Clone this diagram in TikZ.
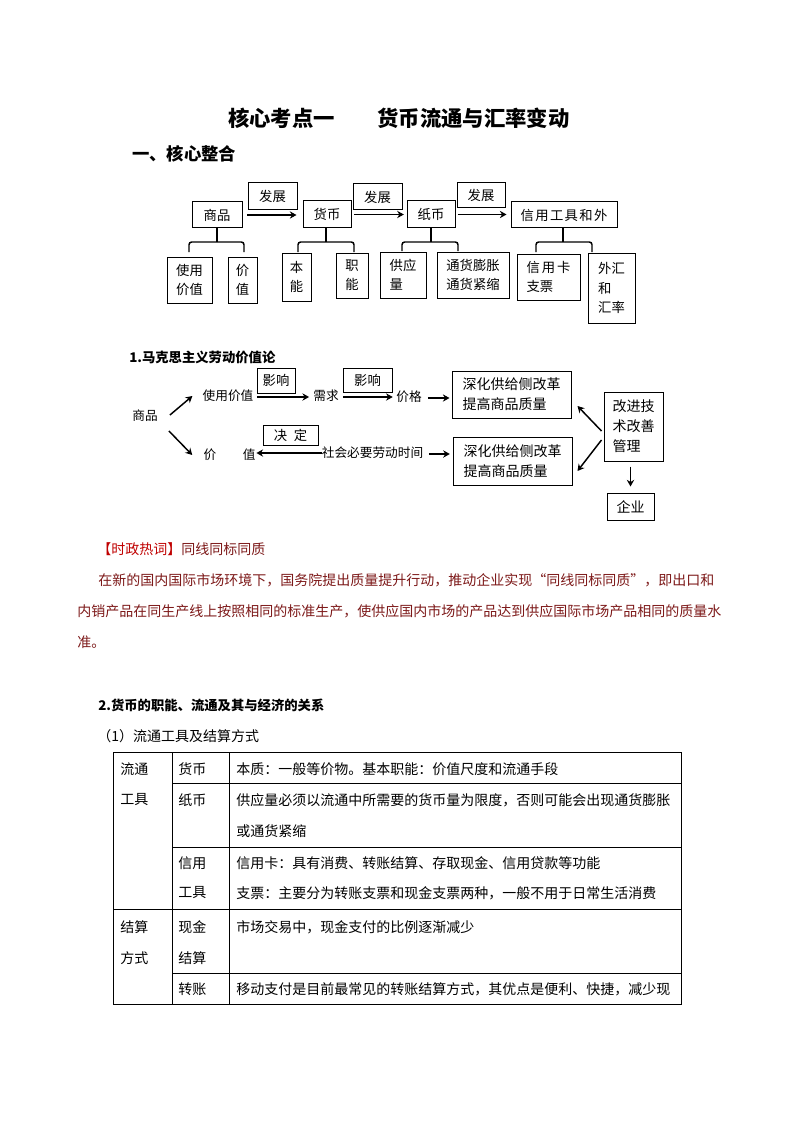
\documentclass[tikz,border=0pt]{standalone}
\usepackage{fontspec}
\setmainfont{Noto Sans CJK SC}
\usetikzlibrary{arrows.meta,calc}
\definecolor{hot}{RGB}{192,0,0}
\definecolor{para}{RGB}{125,25,25}
\begin{document}
\begin{tikzpicture}[x=0.75pt,y=-0.75pt,
  box/.style={draw, line width=0.75pt, inner sep=0pt, align=left, font=\fontsize{10}{14.5}\selectfont},
  bx/.style 2 args={box, minimum width={(#1)*0.75pt}, minimum height={(#2)*0.75pt}},
  bxb/.style 2 args={bx={#1}{#2}, font=\fontsize{10.5}{15}\selectfont},
  lbl/.style={inner sep=0pt, font=\fontsize{9.5}{11}\selectfont},
  txt/.style={inner sep=0pt, anchor=west, font=\fontsize{10.5}{12}\selectfont},
  arr/.style={-{Stealth[length=5pt,width=5.5pt]}, line width=1.1pt},
  brk/.style={line width=1.1pt, rounded corners=2pt},
  tline/.style={line width=0.75pt}
]
\useasboundingbox[fill=white] (0,0) rectangle (794,1123);

% title
\node[txt, font=\bfseries\fontsize{16}{18}\selectfont] (title) at (228,118) {核心考点一\hspace{32pt}货币流通与汇率变动};
\node[txt, font=\bfseries\fontsize{13}{15}\selectfont] (h1) at (132,154) {一、核心整合};

% top diagram
\node[bx={50}{26}] (sp) at (217,215) {商品};
\node[bx={49}{27}] (fz1) at (272.5,196.5) {发展};
\node[bx={48}{27}] (hb) at (327,214.5) {货币};
\node[bx={49}{26}] (fz2) at (377.5,197) {发展};
\node[bx={48}{27}] (zb) at (431,214.5) {纸币};
\node[bx={48}{25}] (fz3) at (481,195.5) {发展};
\node[bx={106}{26}] (xy) at (564,215) {信\hspace{1pt}用\hspace{1pt}工\hspace{1pt}具\hspace{1pt}和\hspace{1pt}外};

\node[bx={45}{46}] (syjz) at (189.5,280) {使用\\价值};
\node[bx={29}{46}] (jz) at (242.5,280) {价\\值};
\node[bx={29}{48}] (bn) at (296.5,277) {本\\能};
\node[bx={32}{45}] (zn) at (352,275.5) {职\\能};
\node[bx={46}{46}] (gyl) at (403,275) {供应\\量};
\node[bx={72}{46}] (tz) at (473,275) {通货膨胀\\通货紧缩};
\node[bx={63}{46}] (xyk) at (548.5,277) {信\hspace{1.5pt}用\hspace{1.5pt}卡\\支票};
\node[bx={47}{70}] (wh) at (611.5,288) {外汇\\和\\汇率};

\draw[arr, shorten <=3.5pt, shorten >=4.5pt] (sp.east) -- (sp.east -| hb.west);
\draw[arr, shorten <=2pt, shorten >=2pt] (hb.east) -- (hb.east -| zb.west);
\draw[arr, shorten <=1.5pt, shorten >=3pt] (zb.east) -- (zb.east -| xy.west);

\coordinate (spm) at (217,242);
\coordinate (spl) at (189,252);
\coordinate (spr) at (244,252);
\draw[line width=1.1pt] (sp.south) -- (spm);
\draw[brk] (spl) -- (spl |- spm) -- (spr |- spm) -- (spr);

\coordinate (hbm) at (326,242);
\coordinate (hbl) at (298,252);
\coordinate (hbr) at (354,252);
\draw[line width=1.1pt] (hb.south -| hbm) -- (hbm);
\draw[brk] (hbl) -- (hbl |- hbm) -- (hbr |- hbm) -- (hbr);

\coordinate (zbm) at (431,242);
\coordinate (zbl) at (402,251);
\coordinate (zbr) at (458,251);
\draw[line width=1.1pt] (zb.south) -- (zbm);
\draw[brk] (zbl) -- (zbl |- zbm) -- (zbr |- zbm) -- (zbr);

\coordinate (xym) at (563,242);
\coordinate (xyl) at (536,252);
\coordinate (xyr) at (592,252);
\draw[line width=1.1pt] (xy.south -| xym) -- (xym);
\draw[brk] (xyl) -- (xyl |- xym) -- (xyr |- xym) -- (xyr);

% second diagram
\node[txt, font=\bfseries\fontsize{10}{12}\selectfont] (t1) at (129,357) {1.马克思主义劳动价值论};
\node[lbl] (sp2) at (145,416) {商品};
\node[lbl] (syjz2) at (228,396) {使用价值};
\node[lbl] (jz2) at (229.5,455) {价\hspace{20pt}值};
\node[bx={38}{25}] (yx1) at (276,380.5) {影响};
\node[lbl] (xq) at (326,396) {需求};
\node[bx={49}{24}] (yx2) at (367.5,380) {影响};
\node[lbl] (jg) at (409,397) {价格};
\node[bxb={119}{47}] (sh1) at (511.5,394.5) {深化供给侧改革\\提高商品质量};
\node[bxb={119}{48}] (sh2) at (512.5,461) {深化供给侧改革\\提高商品质量};
\node[bx={55}{20}] (jd) at (290.5,435) {决\hspace{5pt}定};
\node[lbl] (shbl) at (372.5,453) {社会必要劳动时间};
\node[bxb={59}{69}] (gj) at (633.5,426.5) {改进技\\术改善\\管理};
\node[bxb={47}{27}] (qy) at (630.5,506.5) {企业};

\draw[arr] ($(sp2.east)+(12,-1)$) -- ($(syjz2.west)+(-10,0)$);
\draw[arr] ($(sp2.east)+(11,15)$) -- ($(jz2.west)+(-11,0)$);
\draw[arr, shorten <=2.5pt, shorten >=3pt] ($(syjz2.east)+(0,1)$) -- ($(xq.west)+(0,1)$);
\draw[arr, shorten <=3pt, shorten >=2.5pt] ($(xq.east)+(0,1)$) -- ($(xq.east -| jg.west)+(0,1)$);
\draw[arr, shorten <=4.5pt, shorten >=1.5pt] ($(jg.east)+(0,1)$) -- ($(jg.east -| sh1.west)+(0,1)$);
\draw[arr, shorten >=0.5pt] (shbl.west) -- (shbl.west -| jz2.east);
\draw[arr, shorten <=4pt, shorten >=2pt] ($(shbl.east)+(0,1)$) -- ($(shbl.east -| sh2.west)+(0,1)$);
\draw[arr] ($(gj.west)+(-2,4.5)$) -- ($(sh1.east)+(6,11.5)$);
\draw[arr] ($(gj.west)+(-2,13.5)$) -- ($(sh2.east)+(5,10)$);
\draw[arr, shorten <=3.75pt, shorten >=4.5pt] (gj.south -| qy) -- (qy.north);

% hot word paragraph
\node[txt] (hw) at (97,549) {\textcolor{hot}{【时政热词】}\textcolor{para}{同线同标同质}};
\node[txt, text=para] (p1) at (98,580) {在新的国内国际市场环境下，国务院提出质量提升行动，推动企业实现“同线同标同质”，即出口和};
\node[txt, text=para] (p2) at (77,611) {内销产品在同生产线上按照相同的标准生产，使供应国内市场的产品达到供应国际市场产品相同的质量水};
\node[txt, text=para] (p3) at (77,642) {准。};

% section 2
\node[txt, font=\bfseries\fontsize{10}{12}\selectfont] (h2) at (98,705) {2.货币的职能、流通及其与经济的关系};
\node[txt] (h3) at (97,736) {（1）流通工具及结算方式};

% table
\draw[tline] (113,752) rectangle (681,1004);
\draw[tline] (172,752) -- (172,1004);
\draw[tline] (229,752) -- (229,1004);
\draw[tline] (172,783) -- (681,783);
\draw[tline] (172,847) -- (681,847);
\draw[tline] (113,909) -- (681,909);
\draw[tline] (172,973) -- (681,973);

\node[txt] (c11) at (120,769) {流通};
\node[txt] (c12) at (120,800) {工具};
\node[txt] (c13) at (120,927) {结算};
\node[txt] (c14) at (120,958) {方式};
\node[txt] (c21) at (178,769) {货币};
\node[txt] (c22) at (178,800) {纸币};
\node[txt] (c23) at (178,863) {信用};
\node[txt] (c24) at (178,893) {工具};
\node[txt] (c25) at (178,927) {现金};
\node[txt] (c26) at (178,958) {结算};
\node[txt] (c27) at (178,989) {转账};
\node[txt] (d1) at (236,769) {本质：一般等价物。基本职能：价值尺度和流通手段};
\node[txt] (d2) at (236,800) {供应量必须以流通中所需要的货币量为限度，否则可能会出现通货膨胀};
\node[txt] (d3) at (236,831) {或通货紧缩};
\node[txt] (d4) at (236,863) {信用卡：具有消费、转账结算、存取现金、信用贷款等功能};
\node[txt] (d5) at (236,893) {支票：主要分为转账支票和现金支票两种，一般不用于日常生活消费};
\node[txt] (d6) at (236,927) {市场交易中，现金支付的比例逐渐减少};
\node[txt] (d7) at (236,989) {移动支付是目前最常见的转账结算方式，其优点是便利、快捷，减少现};
\end{tikzpicture}
\end{document}
